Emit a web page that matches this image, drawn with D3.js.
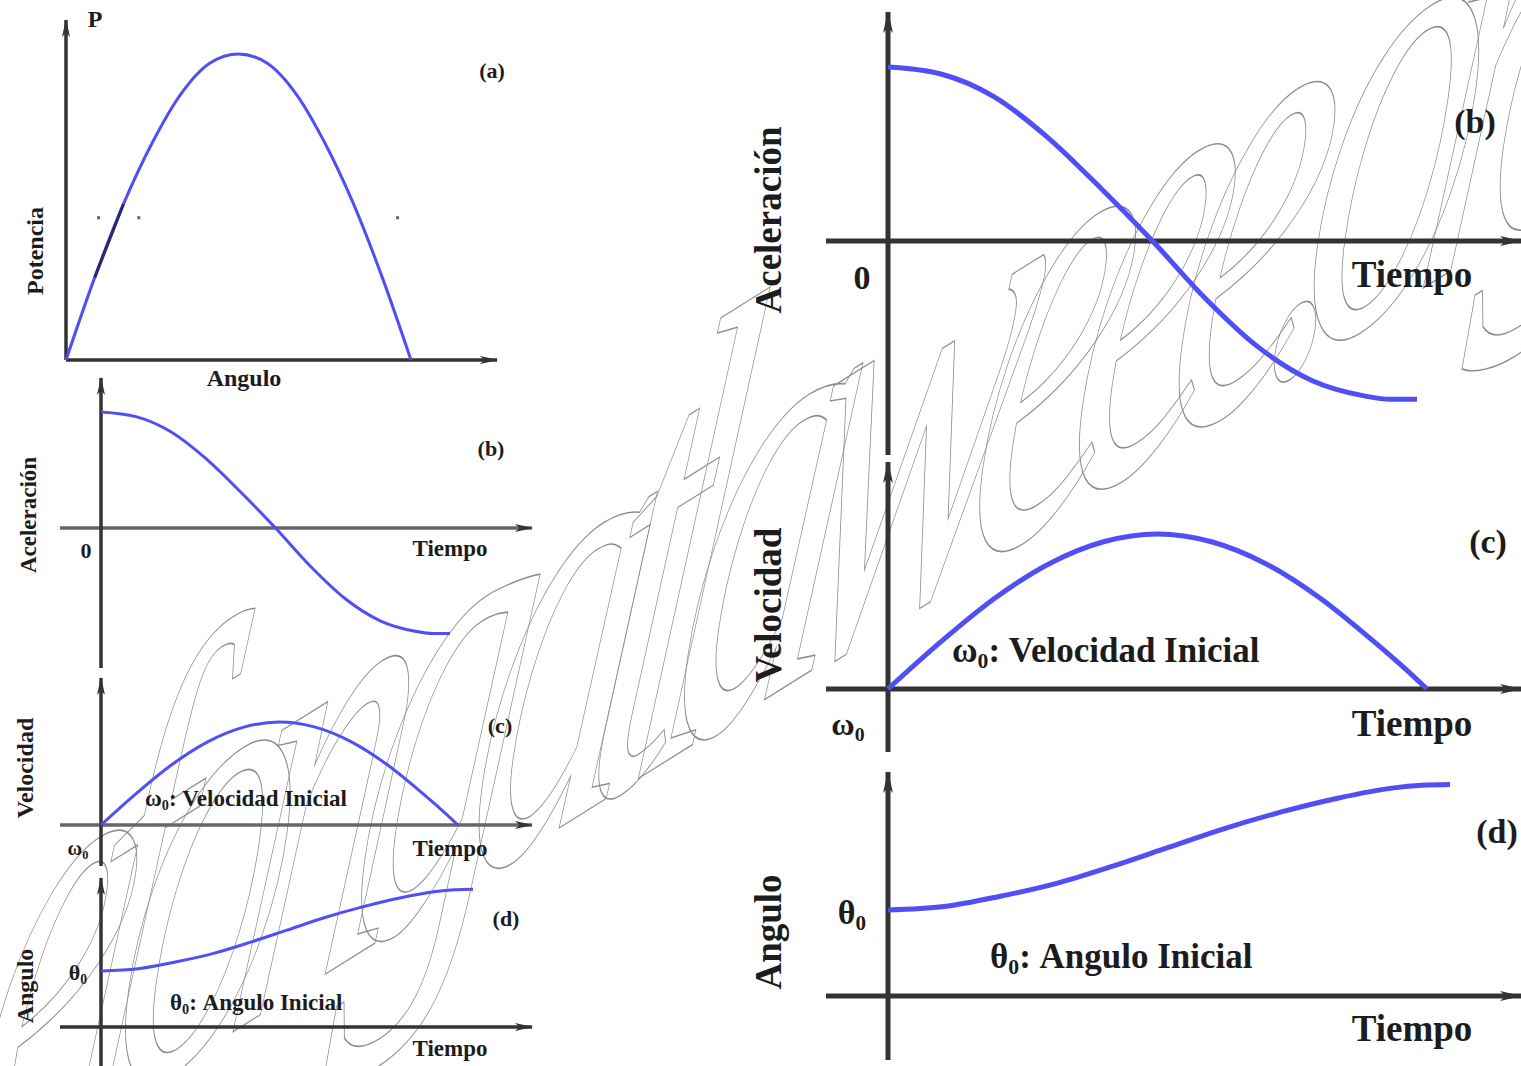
<!DOCTYPE html>
<html lang="es">
<head>
  <meta charset="UTF-8" />
  <title>Potencia, aceleración, velocidad y ángulo</title>
  <style>
    body {
      margin: 0;
      background: #fff;
    }
    svg text {
      font-family: "Liberation Serif", "DejaVu Serif", serif;
      font-weight: bold;
      fill: #1c1c1c;
    }
    .watermark {
      font-family: "Liberation Serif", serif;
      font-style: italic;
      font-weight: normal;
      fill: none;
      stroke: #8c8c8c;
      stroke-width: 1.2px;
    }
  </style>
  <script src="https://d3js.org/d3.v7.min.js"></script>
</head>
<body>
  <div id="chart"></div>
  <script>
    const width = 1521;
    const height = 1066;

    // (a) potencia vs angulo
    const anguloGrados = [0, 15, 30, 45, 60, 75, 90, 105, 120, 135, 150, 165, 180];
    const potencia = [0, 0.27, 0.51, 0.71, 0.87, 0.97, 1.0, 0.97, 0.87, 0.71, 0.51, 0.27, 0];

    // (b)(c)(d) vs tiempo (normalised time)
    const tiempo = [0, 0.1, 0.2, 0.3, 0.4, 0.5, 0.6, 0.7, 0.8, 0.9, 0.95, 1.0];
    const aceleracion = [1.0, 0.96, 0.83, 0.6, 0.31, 0.0, -0.33, -0.61, -0.8, -0.89, -0.91, -0.91];
    const velocidad = [0, 0.31, 0.59, 0.81, 0.95, 1.0, 0.95, 0.81, 0.59, 0.31, 0.16, 0];
    const angulo = [1.0, 1.04, 1.16, 1.31, 1.51, 1.73, 1.95, 2.14, 2.3, 2.42, 2.45, 2.46];

    const svg = d3.select("#chart")
      .append("svg")
      .attr("width", width)
      .attr("height", height);

    const defs = svg.append("defs");
    function arrow(id, w, h, color) {
      defs.append("marker")
        .attr("id", id)
        .attr("markerUnits", "userSpaceOnUse")
        .attr("viewBox", `0 0 ${w} ${h}`)
        .attr("markerWidth", w)
        .attr("markerHeight", h)
        .attr("refX", w - 1)
        .attr("refY", h / 2)
        .attr("orient", "auto")
        .append("path")
        .attr("d", `M0,0 L${w},${h / 2} L0,${h} L${w * 0.25},${h / 2} Z`)
        .attr("fill", color);
    }
    arrow("arrS", 18, 8, "#333");
    arrow("arrB", 22, 10, "#333");

    // watermark (outlined, stretched italic text)
    svg.append("text")
      .attr("class", "watermark")
      .attr("transform", "translate(-41,1203) rotate(-32) skewX(-40) scale(0.8,1)")
      .attr("font-size", 500)
      .attr("letter-spacing", -75)
      .text("efongatlaweee.org");

    const line = (x, y) => d3.line()
      .x(d => x(d[0]))
      .y(d => y(d[1]))
      .curve(d3.curveMonotoneX);

    // panel layouts: origin, pixel end of data, pixels per unit, axis extents
    const panels = [
      { key: "a", xs: anguloGrados, ys: potencia, dom: 180, ox: 66, oy: 360, xEnd: 411, unit: 306,
        yTop: 20, yBot: 360, xL: 66, xR: 497, sw: 3, axW: 3.5, xAxC: "#333", arr: "arrS" },
      { key: "b", xs: tiempo, ys: aceleracion, dom: 1, ox: 101, oy: 528, xEnd: 450, unit: 116,
        yTop: 378, yBot: 668, xL: 60, xR: 532, sw: 3, axW: 3.5, xAxC: "#666", arr: "arrS" },
      { key: "c", xs: tiempo, ys: velocidad, dom: 1, ox: 101, oy: 825, xEnd: 458, unit: 103,
        yTop: 678, yBot: 866, xL: 60, xR: 532, sw: 3, axW: 3.5, xAxC: "#666", arr: "arrS" },
      { key: "d", xs: tiempo, ys: angulo, dom: 1, ox: 101, oy: 1027, xEnd: 473, unit: 56,
        yTop: 878, yBot: 1066, xL: 60, xR: 532, sw: 3, axW: 3.5, xAxC: "#333", arr: "arrS" },
      { key: "B", xs: tiempo, ys: aceleracion, dom: 1, ox: 888, oy: 241, xEnd: 1417, unit: 174,
        yTop: 12, yBot: 455, xL: 826, xR: 1521, sw: 5, axW: 5, xAxC: "#333", arr: "arrB" },
      { key: "C", xs: tiempo, ys: velocidad, dom: 1, ox: 888, oy: 689, xEnd: 1427, unit: 155,
        yTop: 462, yBot: 752, xL: 826, xR: 1521, sw: 5, axW: 5, xAxC: "#333", arr: "arrB" },
      { key: "D", xs: tiempo, ys: angulo, dom: 1, ox: 888, oy: 996, xEnd: 1450, unit: 86,
        yTop: 772, yBot: 1060, xL: 826, xR: 1521, sw: 5, axW: 5, xAxC: "#333", arr: "arrB" }
    ];

    panels.forEach(p => {
      const x = d3.scaleLinear().domain([0, p.dom]).range([p.ox, p.xEnd]);
      const y = d3.scaleLinear().domain([0, 1]).range([p.oy, p.oy - p.unit]);
      const g = svg.append("g");

      // x axis
      g.append("line")
        .attr("x1", p.xL).attr("x2", p.xR)
        .attr("y1", y(0)).attr("y2", y(0))
        .attr("stroke", p.xAxC)
        .attr("stroke-width", p.axW)
        .attr("marker-end", `url(#${p.arr})`);
      // y axis
      g.append("line")
        .attr("x1", x(0)).attr("x2", x(0))
        .attr("y1", p.yBot).attr("y2", p.yTop)
        .attr("stroke", "#333")
        .attr("stroke-width", p.axW)
        .attr("marker-end", `url(#${p.arr})`);

      const pts = p.xs.map((v, i) => [v, p.ys[i]]);
      g.append("path")
        .attr("d", line(x, y)(pts))
        .attr("fill", "none")
        .attr("stroke", "#4f4ff5")
        .attr("stroke-width", p.sw)
        .attr("stroke-linecap", "butt");

      if (p.key === "a") {
        // darker stretch and dotted guide of the original scan
        const seg = pts.filter(d => d[0] >= 15 && d[0] <= 30);
        g.append("path")
          .attr("d", line(x, y)(seg))
          .attr("fill", "none")
          .attr("stroke", "#2a2a6a")
          .attr("stroke-width", 3);
        g.selectAll(".dot")
          .data([17, 38, 173])
          .enter()
          .append("rect")
          .attr("x", d => x(d) - 1.5)
          .attr("y", y(0.465) - 1.5)
          .attr("width", 3)
          .attr("height", 3)
          .attr("fill", "#666");
      }
    });

    // text labels
    function label(txt, x, y, size, anchor = "middle", rot = 0) {
      const t = svg.append("text")
        .attr("transform", `translate(${x},${y}) rotate(${rot})`)
        .attr("text-anchor", anchor)
        .attr("font-size", size);
      const parts = txt.split("_0");
      t.append("tspan").text(parts[0]);
      if (parts.length > 1) {
        t.append("tspan").attr("font-size", size * 0.62).attr("dy", size * 0.18).text("0");
        t.append("tspan").attr("dy", -size * 0.18).text(parts[1]);
      }
    }

    // left, small
    label("P", 95, 27, 24);
    label("(a)", 492, 78, 22);
    label("Potencia", 43, 251, 24, "middle", -90);
    label("Angulo", 244, 386, 24);

    label("(b)", 491, 456, 22);
    label("Aceleración", 36, 515, 23, "middle", -90);
    label("0", 86, 558, 22);
    label("Tiempo", 450, 556, 23);

    label("(c)", 500, 733, 22);
    label("Velocidad", 33, 768, 24, "middle", -90);
    label("ω_0", 78, 855, 20);
    label("ω_0: Velocidad Inicial", 145, 806, 23, "start");
    label("Tiempo", 450, 856, 23);

    label("(d)", 506, 926, 22);
    label("Angulo", 33, 986, 24, "middle", -90);
    label("θ_0", 78, 980, 22);
    label("θ_0: Angulo Inicial", 170, 1010, 23, "start");
    label("Tiempo", 450, 1056, 23);

    // right, enlarged
    label("(b)", 1475, 133, 34);
    label("Aceleración", 781, 220, 37, "middle", -90);
    label("0", 862, 289, 34);
    label("Tiempo", 1412, 287, 37);

    label("(c)", 1488, 553, 34);
    label("Velocidad", 781, 605, 37, "middle", -90);
    label("ω_0", 848, 735, 32);
    label("ω_0: Velocidad Inicial", 952, 662, 35, "start");
    label("Tiempo", 1412, 736, 37);

    label("(d)", 1497, 843, 34);
    label("Angulo", 781, 932, 37, "middle", -90);
    label("θ_0", 852, 924, 34);
    label("θ_0: Angulo Inicial", 990, 968, 35, "start");
    label("Tiempo", 1412, 1041, 37);
  </script>
</body>
</html>
